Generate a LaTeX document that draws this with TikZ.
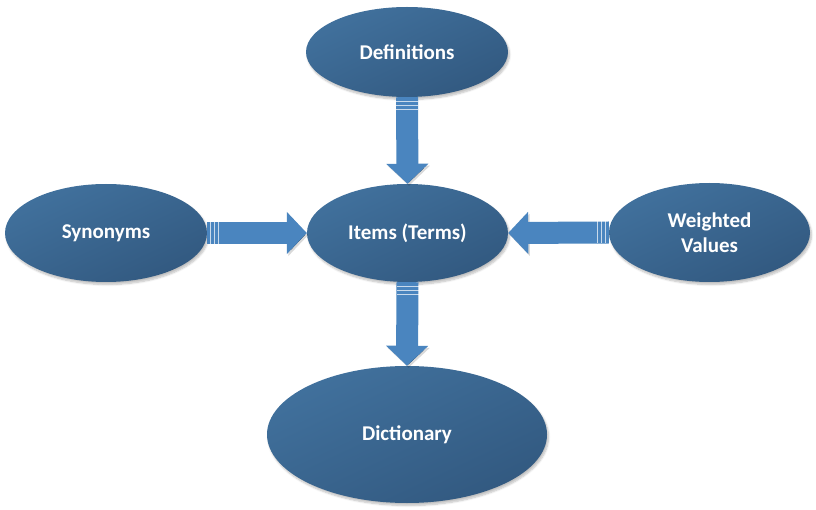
\documentclass[tikz,border=0pt]{standalone}
\usepackage{fontspec}
\setmainfont{Carlito}
\usetikzlibrary{shapes.geometric,arrows.meta,shadows.blur}
\definecolor{ellLight}{HTML}{41719D}
\definecolor{ellDark}{HTML}{325980}
\definecolor{arrBlue}{HTML}{4A85BF}
\tikzset{
  bubble/.style={ellipse, inner sep=0pt, draw=none,
    top color=ellLight, bottom color=ellDark, shading angle=25,
    text=white, font=\fontsize{21}{25.5}\selectfont\bfseries, align=center,
    blur shadow={shadow xshift=1.5pt, shadow yshift=-2.5pt, shadow blur steps=6, shadow opacity=25}},
  blockarrow/.style={draw=arrBlue, line width=22pt,
    -{Triangle[length=20pt 0 0, width=41pt 0 0]},
    preaction={draw=black, draw opacity=0.15, transform canvas={shift={(1.5pt,-2pt)}}}},
  stripe/.style={draw=white, draw opacity=0.7, line width=0.8pt}
}
\begin{document}
\begin{tikzpicture}[x=1pt,y=-1pt]
\useasboundingbox (0,0) rectangle (816,510);
\node[bubble, minimum width=202pt, minimum height=90pt] (def) at (407,52) {Definitions};
\node[bubble, minimum width=201pt, minimum height=98pt] (items) at (407.5,233) {Items (Terms)};
\node[bubble, minimum width=202pt, minimum height=98pt] (syn) at (106,233) {Synonyms};
\node[bubble, minimum width=201pt, minimum height=99pt] (wv) at (709.5,232.5) {Weighted\\Values};
\node[bubble, minimum width=280pt, minimum height=137pt] (dict) at (407,434.5) {Dictionary};

\draw[blockarrow] (def.south) -- (items.north);
\draw[blockarrow] (syn.east) -- (items.west);
\draw[blockarrow] (wv.west) -- (items.east);
\draw[blockarrow] (items.south) -- (dict.north);

% stripes at the base of each arrow
\foreach \d in {4,8,12}{
  \draw[stripe] ([shift={(-11,\d)}]def.south) -- ++(22,0);
  \draw[stripe] ([shift={(-11,\d)}]items.south) -- ++(22,0);
  \draw[stripe] ([shift={(\d-1,-11)}]syn.east) -- ++(0,22);
  \draw[stripe] ([shift={(-\d+1,-11)}]wv.west) -- ++(0,22);
}
\end{tikzpicture}
\end{document}
